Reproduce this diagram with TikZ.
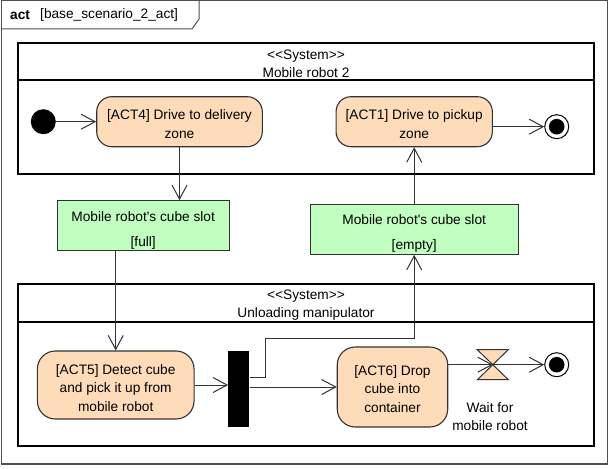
\documentclass[tikz,border=0pt]{standalone}
\usepackage{fontspec}
\setmainfont{Liberation Sans}
\usetikzlibrary{arrows.meta,calc}
\definecolor{actfill}{RGB}{254,220,186}
\definecolor{objfill}{RGB}{192,255,192}
\definecolor{edgecol}{RGB}{50,50,50}
\definecolor{framecol}{RGB}{80,80,80}
\newcommand\topstrut[1]{\rule{0pt}{#1}}
\tikzset{
  action/.style={draw=edgecol, line width=1.1pt, fill=actfill, rounded corners=15pt, align=center, inner sep=0pt},
  objnode/.style={draw=edgecol, line width=1.1pt, fill=objfill, align=center, inner sep=0pt, font=\fontsize{13.7}{25}\selectfont},
  partbox/.style={draw=black, line width=2pt},
  flow/.style={draw=edgecol, line width=1pt, -{Straight Barb[length=14pt,width=15pt]}},
  lanelabel/.style={align=center, inner sep=0pt},
}
\begin{document}
\begin{tikzpicture}[x=1pt,y=-1pt, every node/.style={font=\fontsize{13.7}{18.4}\selectfont}]
\useasboundingbox (0,0) rectangle (609,468);
% frame
\draw[draw=framecol, line width=1.5pt] (1.5,0.75) rectangle (607.5,464);
\draw[draw=framecol, line width=1pt] (1.5,29) -- (192,29) -- (199,19) -- (199,0.75);
\node[anchor=west, inner sep=0pt] (kw) at (10,15) {\textbf{act}};
\node[anchor=west, inner sep=0pt] (title) at (40,15) {[base\_scenario\_2\_act]};
% partitions
\draw[partbox] (18,42.7) rectangle (594,174);
\draw[partbox] (18,80) -- (594,80);
\node[lanelabel] (lane1) at (306,62) {\topstrut{13pt}<\kern0pt<System>\kern0pt>\\Mobile robot 2};
\draw[partbox] (18,284) rectangle (594,445.7);
\draw[partbox] (18,322) -- (594,322);
\node[lanelabel] (lane2) at (306,303.5) {\topstrut{13pt}<\kern0pt<System>\kern0pt>\\Unloading manipulator};
% nodes
\node[circle, fill=black, minimum size=25pt, inner sep=0pt] (init) at (43.3,121.7) {};
\node[action, minimum width=165.6pt, minimum height=50pt] (act4) at (179.5,121.7) {\topstrut{15pt}[ACT4] Drive to delivery\\zone};
\node[action, minimum width=156.3pt, minimum height=50pt] (act1) at (414.2,121.7) {\topstrut{15pt}[ACT1] Drive to pickup\\zone};
\node[circle, draw=black, line width=1pt, fill=white, minimum size=24pt, inner sep=0pt] (fin1) at (556.7,126.7) {};
\node[circle, fill=black, minimum size=15.6pt, inner sep=0pt] (fin1in) at (fin1) {};
\node[objnode, minimum width=171.7pt, minimum height=50pt] (full) at (143.2,225.7) {\topstrut{19pt}Mobile robot\textquotesingle s cube slot\\{[full]}};
\node[objnode, minimum width=208.3pt, minimum height=50pt] (empty) at (414.2,229.3) {\topstrut{19pt}Mobile robot\textquotesingle s cube slot\\{[empty]}};
\node[action, rounded corners=18pt, minimum width=156.7pt, minimum height=68pt] (act5) at (115.7,385) {\topstrut{16pt}[ACT5] Detect cube\\and pick it up from\\mobile robot};
\node[fill=black, minimum width=21pt, minimum height=76.3pt, inner sep=0pt] (bar) at (238.8,389.2) {};
\node[action, rounded corners=18pt, minimum width=110.5pt, minimum height=80pt] (act6) at (392.5,387) {\topstrut{14pt}[ACT6] Drop\\cube into\\container};
\coordinate (hg) at (492.8,364.7);
\filldraw[fill=actfill, draw=edgecol, line width=1pt] (477.3,349.7) -- (508.3,349.7) -- (hg) -- cycle;
\filldraw[fill=actfill, draw=edgecol, line width=1pt] (477.3,379.7) -- (508.3,379.7) -- (hg) -- cycle;
\node[align=center, inner sep=0pt] (wait) at (490,416.5) {Wait for\\mobile robot};
\node[circle, draw=black, line width=1pt, fill=white, minimum size=24pt, inner sep=0pt] (fin2) at (556.7,364.7) {};
\node[circle, fill=black, minimum size=15.6pt, inner sep=0pt] (fin2in) at (fin2) {};
% connectors
\coordinate (j1) at (265,377.3);
\coordinate (j2) at (265,338.7);
\draw[flow] (init) -- (act4);
\draw[flow] (act4.south) -- (act4.south |- full.north);
\draw[flow] (act5.north |- full.south) -- (act5.north);
\draw[flow] (act5.east) -- (bar.west |- act5.east);
\draw[flow] (bar.east |- act6.west) -- (act6.west);
\draw[flow] (bar.east |- j1) -- (j1) -- (j2) -- (empty.south |- j2) -- (empty.south);
\draw[flow] (empty.north) -- (act1.south);
\draw[flow] (act1.east |- fin1.west) -- (fin1.west);
\draw[flow] (act6.east |- hg) -- (hg);
\draw[flow] (hg) -- (fin2.west);
\end{tikzpicture}
\end{document}
